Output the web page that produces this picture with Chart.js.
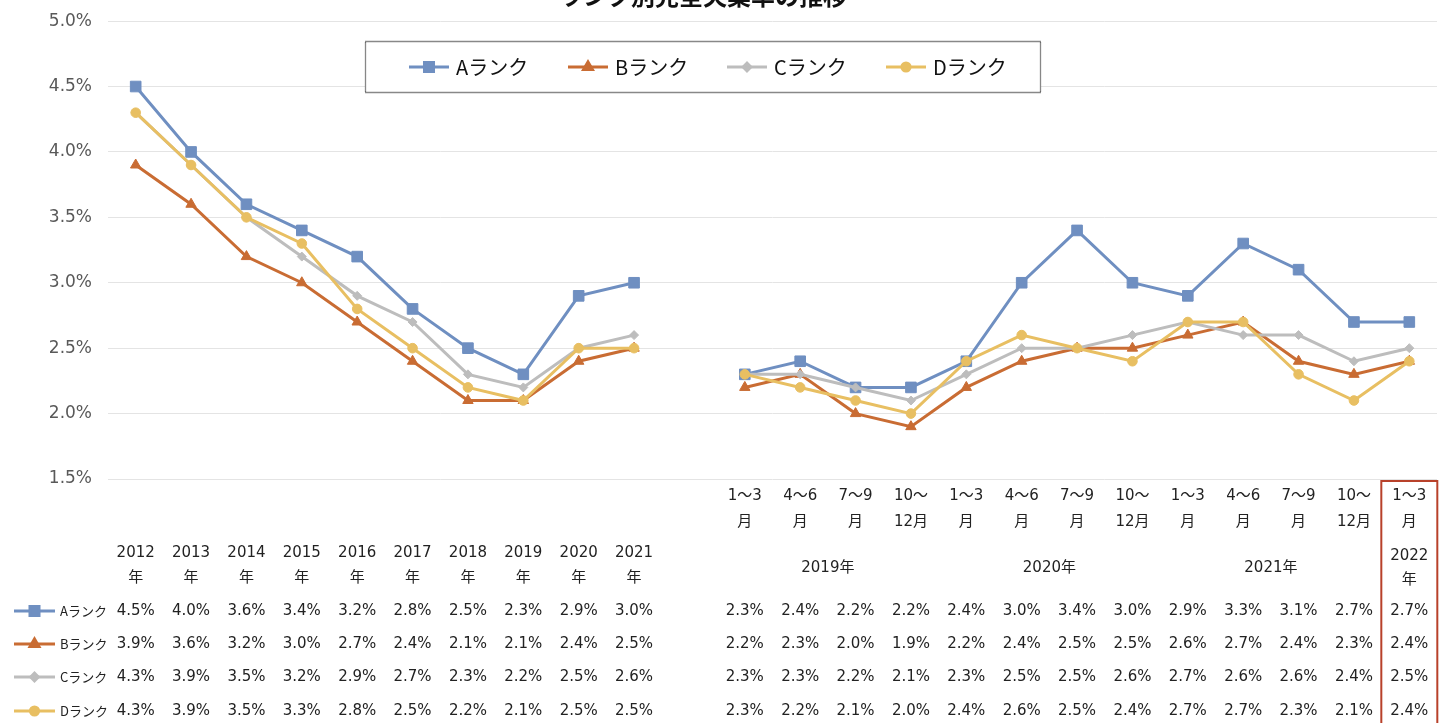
<!DOCTYPE html>
<html lang="ja">
<head>
<meta charset="utf-8">
<title>ランク別完全失業率の推移</title>
<script src="https://cdn.jsdelivr.net/npm/chart.js@4/dist/chart.umd.min.js"></script>
<style>
  html, body { margin: 0; padding: 0; background: #fff; }
  #wrap { width: 1448px; height: 723px; position: relative; }
</style>
</head>
<body>
<div id="wrap"><canvas id="rankChart"></canvas></div>
<script>
// 年次（2012〜2021年）
var annualLabels = [['2012', '年'], ['2013', '年'], ['2014', '年'], ['2015', '年'], ['2016', '年'],
                    ['2017', '年'], ['2018', '年'], ['2019', '年'], ['2020', '年'], ['2021', '年']];
// 四半期（2019年1〜3月〜2022年1〜3月）
var quarterLabels = [['1～3', '月'], ['4～6', '月'], ['7～9', '月'], ['10～', '12月'],
                     ['1～3', '月'], ['4～6', '月'], ['7～9', '月'], ['10～', '12月'],
                     ['1～3', '月'], ['4～6', '月'], ['7～9', '月'], ['10～', '12月'],
                     ['1～3', '月']];
var quarterYears = ['2019年', '2019年', '2019年', '2019年', '2020年', '2020年', '2020年', '2020年',
                    '2021年', '2021年', '2021年', '2021年', '2022年'];

var rankNames = ['Aランク', 'Bランク', 'Cランク', 'Dランク'];

var annualA = [4.5, 4.0, 3.6, 3.4, 3.2, 2.8, 2.5, 2.3, 2.9, 3.0];
var annualB = [3.9, 3.6, 3.2, 3.0, 2.7, 2.4, 2.1, 2.1, 2.4, 2.5];
var annualC = [4.3, 3.9, 3.5, 3.2, 2.9, 2.7, 2.3, 2.2, 2.5, 2.6];
var annualD = [4.3, 3.9, 3.5, 3.3, 2.8, 2.5, 2.2, 2.1, 2.5, 2.5];

var quarterA = [2.3, 2.4, 2.2, 2.2, 2.4, 3.0, 3.4, 3.0, 2.9, 3.3, 3.1, 2.7, 2.7];
var quarterB = [2.2, 2.3, 2.0, 1.9, 2.2, 2.4, 2.5, 2.5, 2.6, 2.7, 2.4, 2.3, 2.4];
var quarterC = [2.3, 2.3, 2.2, 2.1, 2.3, 2.5, 2.5, 2.6, 2.7, 2.6, 2.6, 2.4, 2.5];
var quarterD = [2.3, 2.2, 2.1, 2.0, 2.4, 2.6, 2.5, 2.4, 2.7, 2.7, 2.3, 2.1, 2.4];

var yMin = 1.5, yMax = 5.0, yStep = 0.5;

// 年次と四半期の間は空の列をひとつ挟む
var labels = annualLabels.map(function (l) { return l.join(''); })
  .concat([''])
  .concat(quarterLabels.map(function (l, i) { return quarterYears[i] + l.join(''); }));

function joinSeries(annual, quarter) {
  return annual.concat([null]).concat(quarter);
}

var colors = ['#6f8fc1', '#c96c33', '#bdbdbd', '#e8bf62'];
var markers = [
  { pointStyle: 'rect', radius: 7.5 },
  { pointStyle: 'triangle', radius: 6 },
  { pointStyle: 'rectRot', radius: 4.5 },
  { pointStyle: 'circle', radius: 4.8 }
];
var series = [
  joinSeries(annualA, quarterA),
  joinSeries(annualB, quarterB),
  joinSeries(annualC, quarterC),
  joinSeries(annualD, quarterD)
];

var textFont = '"DejaVu Sans", "Noto Sans CJK JP", sans-serif';
var jpFont = '"Noto Sans CJK JP", "DejaVu Sans", sans-serif';

function drawKey(ctx, i, x1, x2, y) {
  ctx.save();
  ctx.strokeStyle = colors[i];
  ctx.fillStyle = colors[i];
  ctx.lineWidth = 3;
  ctx.beginPath();
  ctx.moveTo(x1, y);
  ctx.lineTo(x2, y);
  ctx.stroke();
  Chart.helpers.drawPoint(ctx, {
    pointStyle: markers[i].pointStyle,
    radius: markers[i].radius * 0.85,
    rotation: 0,
    borderWidth: 1
  }, (x1 + x2) / 2, y);
  ctx.restore();
}

// タイトル・凡例・データ表
var tablePlugin = {
  id: 'rankTable',
  afterDraw: function (chart) {
    var ctx = chart.ctx;
    var xs = chart.scales.x;
    var colX = function (i) { return xs.getPixelForValue(i); };
    var nA = annualLabels.length;

    ctx.save();
    // タイトル（上端で切れている）
    ctx.fillStyle = '#111';
    ctx.font = 'bold 24px ' + jpFont;
    ctx.textAlign = 'center';
    ctx.textBaseline = 'alphabetic';
    ctx.fillText('ランク別完全失業率の推移', 703, 5);

    // 凡例
    ctx.fillStyle = '#fff';
    ctx.fillRect(365, 41, 676, 52);
    ctx.strokeStyle = '#111';
    ctx.lineWidth = 1.3;
    ctx.setLineDash([1, 1]);
    ctx.strokeRect(365.5, 41.5, 675, 51);
    ctx.setLineDash([]);
    ctx.font = '20px ' + jpFont;
    ctx.textAlign = 'left';
    ctx.textBaseline = 'middle';
    for (var i = 0; i < rankNames.length; i++) {
      var lx = 409 + i * 159;
      drawKey(ctx, i, lx, lx + 40, 67);
      ctx.fillStyle = '#111';
      ctx.fillText(rankNames[i], lx + 47, 67);
    }

    // 軸ラベル（年次）
    ctx.fillStyle = '#222';
    ctx.font = '15px ' + textFont;
    ctx.textAlign = 'center';
    annualLabels.forEach(function (l, i) {
      ctx.fillText(l[0], colX(i), 553);
      ctx.fillText(l[1], colX(i), 578);
    });
    // 軸ラベル（四半期）
    quarterLabels.forEach(function (l, i) {
      ctx.fillText(l[0], colX(nA + 1 + i), 496);
      ctx.fillText(l[1], colX(nA + 1 + i), 522);
    });
    // 年のまとまり
    var start = 0;
    for (var q = 1; q <= quarterYears.length; q++) {
      if (q === quarterYears.length || quarterYears[q] !== quarterYears[start]) {
        var cx = (colX(nA + 1 + start) + colX(nA + q)) / 2;
        var yr = quarterYears[start];
        if (q - start === 1) {
          ctx.fillText(yr.replace('年', ''), cx, 556);
          ctx.fillText('年', cx, 580);
        } else {
          ctx.fillText(yr, cx, 568);
        }
        start = q;
      }
    }

    // データ行
    var rowY = [611, 644, 677, 711];
    series.forEach(function (s, r) {
      drawKey(ctx, r, 14, 55, rowY[r]);
      ctx.fillStyle = '#222';
      ctx.font = '13px ' + jpFont;
      ctx.textAlign = 'left';
      ctx.fillText(rankNames[r], 60, rowY[r]);
      ctx.font = '15px ' + textFont;
      ctx.textAlign = 'center';
      s.forEach(function (v, i) {
        if (v === null) return;
        ctx.fillText(v.toFixed(1) + '%', colX(i), rowY[r]);
      });
    });

    // 最新期の枠
    var last = colX(labels.length - 1);
    ctx.strokeStyle = '#b8412a';
    ctx.lineWidth = 2;
    ctx.strokeRect(last - 28, 481, 56, 260);
    ctx.restore();
  }
};

var ctx = document.getElementById('rankChart').getContext('2d');
var rankChart = new Chart(ctx, {
  type: 'line',
  data: {
    labels: labels,
    datasets: rankNames.map(function (name, i) {
      return {
        label: name,
        data: series[i],
        borderColor: colors[i],
        backgroundColor: colors[i],
        borderWidth: 3,
        pointStyle: markers[i].pointStyle,
        pointRadius: markers[i].radius,
        pointHoverRadius: markers[i].radius,
        pointBorderWidth: 1,
        pointBorderColor: colors[i],
        pointBackgroundColor: colors[i],
        tension: 0,
        spanGaps: false,
        order: 4 - i
      };
    })
  },
  options: {
    responsive: true,
    maintainAspectRatio: false,
    animation: false,
    layout: { padding: { left: 0, right: 11, top: 16, bottom: 244 } },
    plugins: {
      legend: { display: false },
      tooltip: { enabled: false },
      title: { display: false }
    },
    scales: {
      x: {
        type: 'category',
        offset: true,
        display: false
      },
      y: {
        min: yMin,
        max: yMax,
        afterFit: function (axis) { axis.width = 108; },
        ticks: {
          stepSize: yStep,
          padding: 16,
          color: '#595959',
          font: { family: textFont, size: 17, lineHeight: 0.6 },
          callback: function (v) { return Number(v).toFixed(1) + '%'; }
        },
        grid: { color: '#e4e4e4', lineWidth: 1, drawTicks: false },
        border: { display: false }
      }
    }
  },
  plugins: [tablePlugin]
});
</script>
</body>
</html>
